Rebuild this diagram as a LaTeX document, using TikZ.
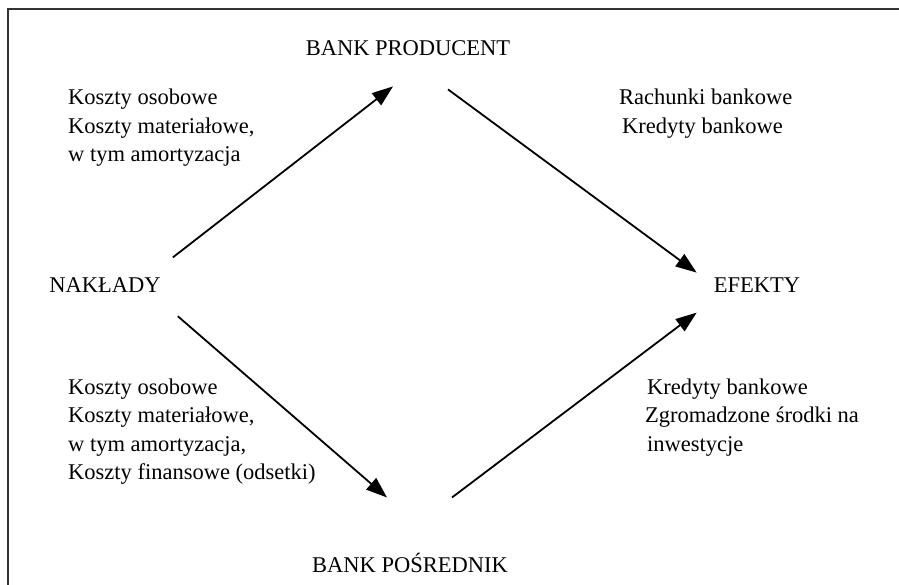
\documentclass[tikz,border=0pt]{standalone}
\usepackage{fontspec}
\setmainfont{Liberation Serif}
\usepackage{tikz}
\usetikzlibrary{arrows.meta, positioning, calc}
\tikzset{
    lbl/.style={inner sep=0pt, anchor=base, font=\fontsize{22.5}{28.5}\selectfont},
    txt/.style={inner sep=0pt, anchor=north west, align=left, font=\fontsize{22.5}{28.5}\selectfont},
    flow/.style={-{Triangle[length=21pt, width=15pt]}, line width=1.8pt},
}

\begin{document}
\begin{tikzpicture}[x=1pt, y=1pt]
                \useasboundingbox (0,0) rectangle (899,585);
                % ramka
                \draw[line width=2pt, black!80] (8,-2) -- (8,576) -- (901,576);
                % wezly glowne
                \node[lbl] (producent) at (408,529) {BANK PRODUCENT};
                \node[lbl] (naklady) at (105,292) {NAKŁADY};
                \node[lbl] (efekty) at (757,292) {EFEKTY};
                \node[lbl] (posrednik) at (410,12) {BANK POŚREDNIK};
                % opisy
                \node[txt] (kosztyP) at (68,496) {Koszty osobowe\\Koszty materiałowe,\\w tym amortyzacja};
                \node[txt] (efektyP) at (619,496) {Rachunki bankowe\\\hspace*{3pt}Kredyty bankowe};
                \node[txt] (kosztyS) at (68,206.5) {Koszty osobowe\\Koszty materiałowe,\\w tym amortyzacja,\\Koszty finansowe (odsetki)};
                \node[txt] (efektyS) at (647,206.5) {Kredyty bankowe\\\hspace*{-2pt}Zgromadzone środki na\\inwestycje};
                % strzalki
                \draw[flow] ([shift={(12,20.5)}]naklady.north east) -- ([shift={(-15,-30)}]producent.south);
                \draw[flow] ([shift={(40,-33)}]producent.south) -- ([shift={(-17,13)}]efekty.west);
                \draw[flow] ([shift={(17,-23)}]naklady.south east) -- ([shift={(-23,56)}]posrednik.north);
                \draw[flow] ([shift={(42,56)}]posrednik.north) -- ([shift={(-17,-27)}]efekty.west);
            \end{tikzpicture}
\end{document}
